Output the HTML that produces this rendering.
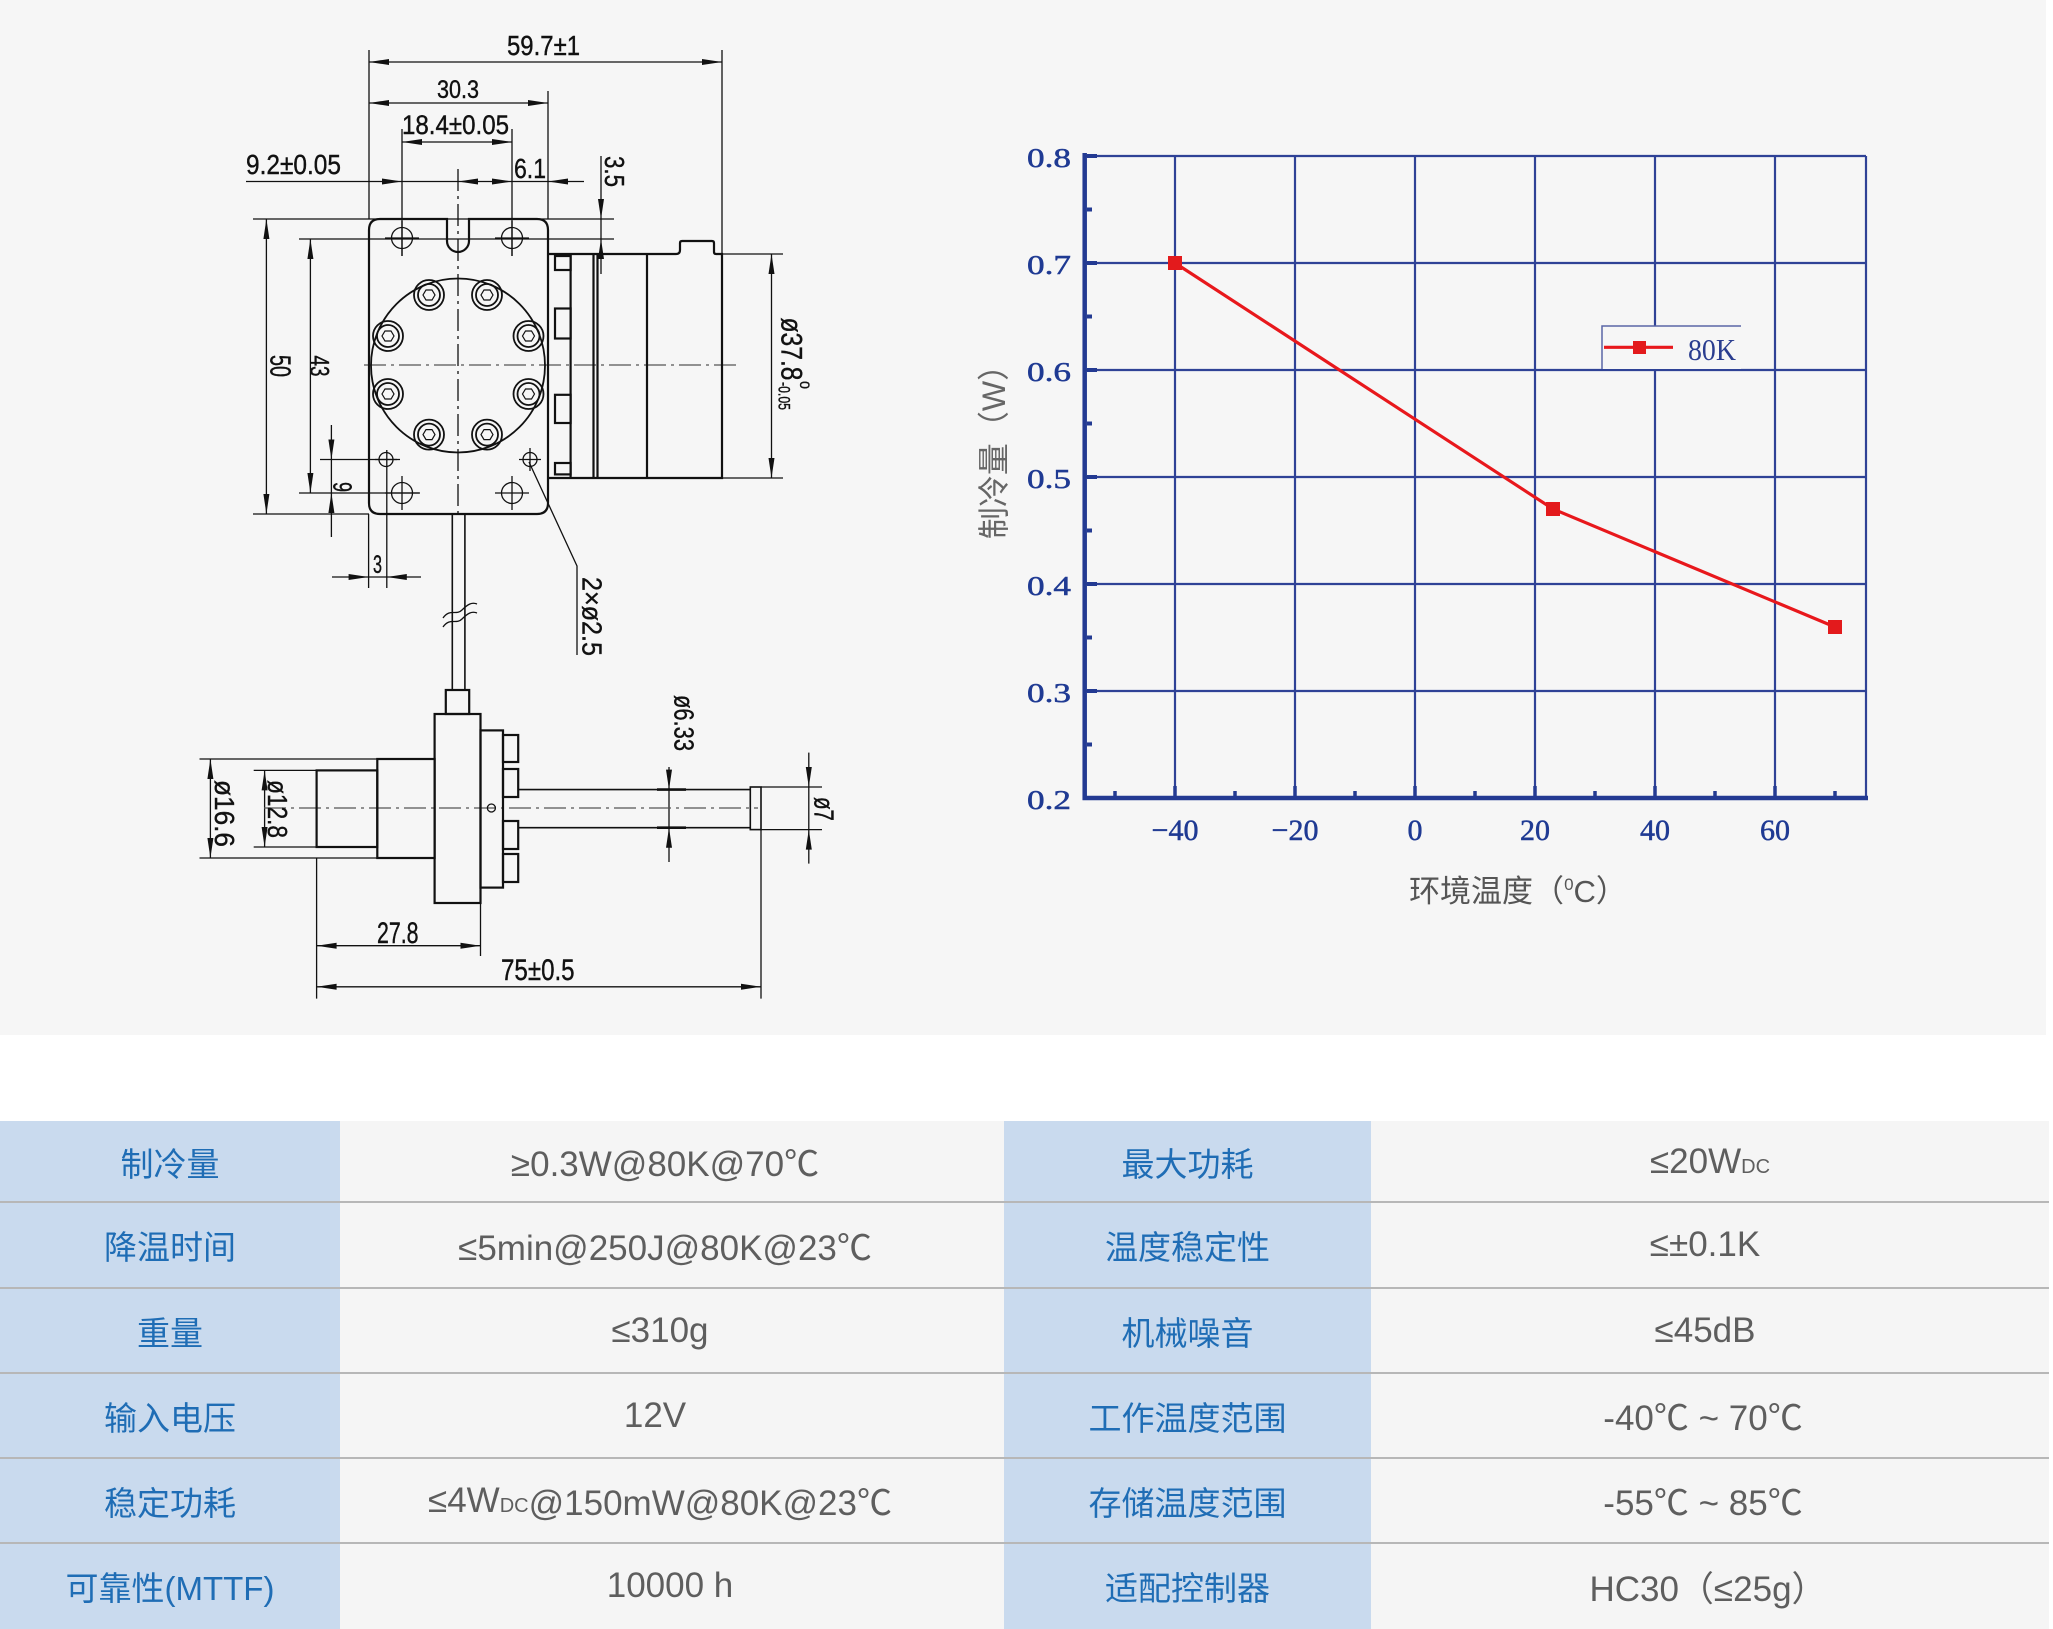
<!DOCTYPE html>
<html>
<head>
<meta charset="utf-8">
<style>
  html,body{margin:0;padding:0;background:#ffffff;}
  body{width:2053px;height:1629px;position:relative;overflow:hidden;font-family:"Liberation Sans","Noto Sans CJK SC",sans-serif;}
  .bg{position:absolute;left:0;top:0;width:2046px;height:1035px;background:#f6f6f6;}
  .c{position:absolute;display:flex;align-items:center;justify-content:center;white-space:nowrap;}
  .l{background:#c9daee;color:#1f6db5;font-size:33px;font-family:"Liberation Sans","Noto Sans CJK SC",sans-serif;}
  .v{background:#f5f5f5;color:#5e5e5e;font-size:35px;font-family:"Liberation Sans","Noto Sans CJK SC",sans-serif;}
  .hl{position:absolute;left:0;width:2049px;height:2px;background:#b7b7b7;}
  .dc{font-size:20px;position:relative;top:6px;}
</style>
</head>
<body>
<div class="bg"></div>

<svg width="2053" height="1035" style="position:absolute;left:0;top:0" xmlns="http://www.w3.org/2000/svg">
  <!-- ================= TECHNICAL DRAWING ================= -->
  <g stroke="#111" fill="none" stroke-width="1.3">
    <!-- 59.7 -->
    <line x1="369" y1="50" x2="369" y2="219"/>
    <line x1="722" y1="50" x2="722" y2="254"/>
    <line x1="369" y1="62" x2="722" y2="62"/>
    <!-- 30.3 -->
    <line x1="548" y1="91" x2="548" y2="219"/>
    <line x1="369" y1="103" x2="548" y2="103"/>
    <!-- 18.4 -->
    <line x1="402" y1="129" x2="402" y2="256"/>
    <line x1="512" y1="129" x2="512" y2="256"/>
    <line x1="402" y1="142" x2="512" y2="142"/>
    <!-- 9.2 / 6.1 line -->
    <line x1="246" y1="181.5" x2="584" y2="181.5"/>
    <!-- 3.5 -->
    <line x1="601" y1="156" x2="601" y2="274"/>
    <line x1="253" y1="219" x2="614" y2="219"/>
    <line x1="299" y1="239" x2="614" y2="239"/>
    <!-- 50 -->
    <line x1="253" y1="514" x2="369" y2="514"/>
    <line x1="266.4" y1="219" x2="266.4" y2="514"/>
    <!-- 43 -->
    <line x1="310.4" y1="239" x2="310.4" y2="493"/>
    <line x1="299" y1="493" x2="420" y2="493"/>
    <!-- 9 -->
    <line x1="331.4" y1="425" x2="331.4" y2="537"/>
    <line x1="320" y1="459.5" x2="400" y2="459.5"/>
    <!-- 3 -->
    <line x1="368.6" y1="514" x2="368.6" y2="588"/>
    <line x1="386.8" y1="450" x2="386.8" y2="588"/>
    <line x1="332" y1="577" x2="421" y2="577"/>
    <!-- ø37.8 -->
    <line x1="722" y1="254" x2="783" y2="254"/>
    <line x1="722" y1="478" x2="783" y2="478"/>
    <line x1="771.5" y1="254" x2="771.5" y2="478"/>
    <!-- leader 2xø2.5 -->
    <polyline points="529,462 577,566 577,655"/>
    <!-- crosses for holes -->
    <line x1="385" y1="238" x2="419" y2="238"/>
    <line x1="495" y1="238" x2="529" y2="238"/>
    <line x1="385" y1="493" x2="419" y2="493"/>
    <line x1="495" y1="493" x2="529" y2="493"/>
    <line x1="402" y1="221" x2="402" y2="256"/>
    <line x1="512" y1="221" x2="512" y2="256"/>
    <line x1="402" y1="476" x2="402" y2="510"/>
    <line x1="512" y1="476" x2="512" y2="510"/>
    <line x1="375" y1="459.5" x2="397" y2="459.5"/>
    <line x1="519" y1="459.5" x2="541" y2="459.5"/>
    <line x1="530" y1="448" x2="530" y2="471"/>
    <circle cx="402" cy="238" r="10.5"/>
    <circle cx="512" cy="238" r="10.5"/>
    <circle cx="402" cy="493" r="10.5"/>
    <circle cx="512" cy="493" r="10.5"/>
    <circle cx="386" cy="459.5" r="7"/>
    <circle cx="530" cy="459.5" r="7"/>
    <!-- center lines -->
    <line x1="458" y1="169" x2="458" y2="514" stroke-dasharray="22 5 3 5"/>
    <line x1="364" y1="365" x2="741" y2="365" stroke-dasharray="22 5 3 5" stroke="#555"/>

    <!-- bottom view dims -->
    <line x1="199.5" y1="759" x2="377" y2="759"/>
    <line x1="199.5" y1="858" x2="377" y2="858"/>
    <line x1="210.4" y1="759" x2="210.4" y2="858"/>
    <line x1="253.7" y1="770.4" x2="316.6" y2="770.4"/>
    <line x1="253.7" y1="847" x2="316.6" y2="847"/>
    <line x1="264.6" y1="770.4" x2="264.6" y2="847"/>
    <line x1="669" y1="767" x2="669" y2="862"/>
    <line x1="761" y1="787" x2="822" y2="787"/>
    <line x1="761" y1="829.6" x2="822" y2="829.6"/>
    <line x1="808.8" y1="752.6" x2="808.8" y2="863.6"/>
    <line x1="316.6" y1="945.7" x2="480.5" y2="945.7"/>
    <line x1="316.6" y1="858" x2="316.6" y2="998.6"/>
    <line x1="480.5" y1="903" x2="480.5" y2="956"/>
    <line x1="316.6" y1="986.8" x2="761" y2="986.8"/>
    <line x1="761" y1="829.6" x2="761" y2="998.6"/>
    <line x1="264" y1="808" x2="758" y2="808" stroke-dasharray="22 5 3 5" stroke="#555"/>
    <circle cx="491.4" cy="808" r="4"/>
  </g>

  <!-- thick outlines -->
  <g stroke="#111" fill="none" stroke-width="2.2">
    <path d="M380,219 L447,219 L447,241 A11,11 0 0 0 469,241 L469,219 L537,219 Q548,219 548,230 L548,503 Q548,514 537,514 L380,514 Q369,514 369,503 L369,230 Q369,219 380,219 Z"/>
    <circle cx="458" cy="365.5" r="87" stroke-width="1.8"/>
    <!-- right assembly -->
    <path d="M548,254 L676,254 Q680,254 680,250 L680,243 Q680,241 682,241 L712,241 Q714,241 714,243 L714,252 Q714,254 716,254 L722,254 L722,478 L548,478"/>
    <line x1="570.6" y1="254" x2="570.6" y2="479"/>
    <line x1="593.5" y1="254" x2="593.5" y2="478"/>
    <line x1="597.5" y1="254" x2="597.5" y2="478"/>
    <line x1="647" y1="254" x2="647" y2="478"/>
    <rect x="555" y="256" width="15.6" height="14"/>
    <rect x="555" y="308.5" width="15.6" height="30"/>
    <rect x="555" y="394.8" width="15.6" height="28.2"/>
    <rect x="555" y="463" width="15.6" height="11.4"/>
    <!-- cable -->
    <line x1="452.3" y1="514" x2="452.3" y2="690" stroke-width="1.6"/>
    <line x1="464.9" y1="514" x2="464.9" y2="690" stroke-width="1.6"/>
    <path d="M443,618 C450,608 456,616 462,610 S472,602 477,604" stroke-width="1.3"/>
    <path d="M443,627 C450,617 456,625 462,619 S472,611 477,613" stroke-width="1.3"/>
    <!-- bottom assembly -->
    <rect x="445.8" y="690" width="23.4" height="24"/>
    <rect x="434.6" y="714" width="45.9" height="189"/>
    <rect x="480.5" y="730.4" width="22.5" height="157.2"/>
    <rect x="503" y="735" width="15.2" height="27"/>
    <rect x="503" y="769" width="15.2" height="28"/>
    <rect x="503" y="821" width="15.2" height="28"/>
    <rect x="503" y="854" width="15.2" height="28"/>
    <rect x="377.3" y="759" width="57.3" height="99"/>
    <rect x="316.6" y="770.4" width="60.7" height="76.6"/>
    <line x1="518" y1="789.6" x2="750.3" y2="789.6" stroke-width="1.6"/>
    <line x1="518" y1="827.7" x2="750.3" y2="827.7" stroke-width="1.6"/>
    <rect x="750.3" y="787" width="10.7" height="42.6" stroke-width="1.6"/>
    <line x1="657" y1="789.6" x2="686" y2="789.6" stroke-width="2.6"/>
    <line x1="657" y1="827.7" x2="686" y2="827.7" stroke-width="2.6"/>
  </g>

  <!-- bolts -->
  <g stroke="#111" fill="none">
    <g stroke-width="1.8"><circle cx="429" cy="295" r="15"/><circle cx="429" cy="295" r="11"/></g><polygon points="435,295 432,300 426,300 423,295 426,290 432,290" stroke-width="1.2"/>
    <g stroke-width="1.8"><circle cx="487" cy="295" r="15"/><circle cx="487" cy="295" r="11"/></g><polygon points="493,295 490,300 484,300 481,295 484,290 490,290" stroke-width="1.2"/>
    <g stroke-width="1.8"><circle cx="388" cy="336" r="15"/><circle cx="388" cy="336" r="11"/></g><polygon points="394,336 391,341 385,341 382,336 385,331 391,331" stroke-width="1.2"/>
    <g stroke-width="1.8"><circle cx="528.5" cy="336" r="15"/><circle cx="528.5" cy="336" r="11"/></g><polygon points="534.5,336 531.5,341 525.5,341 522.5,336 525.5,331 531.5,331" stroke-width="1.2"/>
    <g stroke-width="1.8"><circle cx="388" cy="394" r="15"/><circle cx="388" cy="394" r="11"/></g><polygon points="394,394 391,399 385,399 382,394 385,389 391,389" stroke-width="1.2"/>
    <g stroke-width="1.8"><circle cx="528.5" cy="394" r="15"/><circle cx="528.5" cy="394" r="11"/></g><polygon points="534.5,394 531.5,399 525.5,399 522.5,394 525.5,389 531.5,389" stroke-width="1.2"/>
    <g stroke-width="1.8"><circle cx="429" cy="434.6" r="15"/><circle cx="429" cy="434.6" r="11"/></g><polygon points="435,434.6 432,439.6 426,439.6 423,434.6 426,429.6 432,429.6" stroke-width="1.2"/>
    <g stroke-width="1.8"><circle cx="487" cy="434.6" r="15"/><circle cx="487" cy="434.6" r="11"/></g><polygon points="493,434.6 490,439.6 484,439.6 481,434.6 484,429.6 490,429.6" stroke-width="1.2"/>
  </g>

  <!-- arrowheads -->
  <g fill="#111" stroke="none">
    <polygon points="369,62 389,59 389,65"/><polygon points="722,62 702,59 702,65"/>
    <polygon points="369,103 389,100 389,106"/><polygon points="548,103 528,100 528,106"/>
    <polygon points="402,142 422,139 422,145"/><polygon points="512,142 492,139 492,145"/>
    <polygon points="402,181.5 382,178.5 382,184.5"/><polygon points="458,181.5 478,178.5 478,184.5"/>
    <polygon points="512,181.5 492,178.5 492,184.5"/><polygon points="548,181.5 568,178.5 568,184.5"/>
    <polygon points="601,219 598,199 604,199"/><polygon points="601,239 598,259 604,259"/>
    <polygon points="266.4,219 263.4,239 269.4,239"/><polygon points="266.4,514 263.4,494 269.4,494"/>
    <polygon points="310.4,239 307.4,259 313.4,259"/><polygon points="310.4,493 307.4,473 313.4,473"/>
    <polygon points="331.4,459.5 328.4,439.5 334.4,439.5"/><polygon points="331.4,493 328.4,513 334.4,513"/>
    <polygon points="368.6,577 348.6,574 348.6,580"/><polygon points="386.8,577 406.8,574 406.8,580"/>
    <polygon points="771.5,254 768.5,274 774.5,274"/><polygon points="771.5,478 768.5,458 774.5,458"/>
    <polygon points="210.4,759 207.4,779 213.4,779"/><polygon points="210.4,858 207.4,838 213.4,838"/>
    <polygon points="264.6,770.4 261.6,790.4 267.6,790.4"/><polygon points="264.6,847 261.6,827 267.6,827"/>
    <polygon points="669,789.6 666,769.6 672,769.6"/><polygon points="669,827.7 666,847.7 672,847.7"/>
    <polygon points="808.8,787 805.8,767 811.8,767"/><polygon points="808.8,829.6 805.8,849.6 811.8,849.6"/>
    <polygon points="316.6,945.7 336.6,942.7 336.6,948.7"/><polygon points="480.5,945.7 460.5,942.7 460.5,948.7"/>
    <polygon points="316.6,986.8 336.6,983.8 336.6,989.8"/><polygon points="761,986.8 741,983.8 741,989.8"/>
  </g>

  <!-- drawing texts -->
  <g fill="#111" font-family="Liberation Sans, DejaVu Sans, sans-serif" stroke="#111" stroke-width="0.4">
    <text x="507" y="55" font-size="28" textLength="73" lengthAdjust="spacingAndGlyphs">59.7±1</text>
    <text x="437" y="98" font-size="25" textLength="42" lengthAdjust="spacingAndGlyphs">30.3</text>
    <text x="402" y="134" font-size="27" textLength="107" lengthAdjust="spacingAndGlyphs">18.4±0.05</text>
    <text x="246" y="174" font-size="28" textLength="95" lengthAdjust="spacingAndGlyphs">9.2±0.05</text>
    <text x="514" y="178" font-size="28" textLength="32" lengthAdjust="spacingAndGlyphs">6.1</text>
    <text x="373" y="573" font-size="25" textLength="9" lengthAdjust="spacingAndGlyphs">3</text>
    <text x="377" y="943" font-size="30" textLength="41.5" lengthAdjust="spacingAndGlyphs">27.8</text>
    <text x="501" y="980" font-size="30" textLength="73.6" lengthAdjust="spacingAndGlyphs">75±0.5</text>

    <g text-anchor="middle" dominant-baseline="central">
      <text transform="translate(614.5,171.5) rotate(90)" font-size="28" textLength="31" lengthAdjust="spacingAndGlyphs">3.5</text>
      <text transform="translate(279.5,366) rotate(90)" font-size="29" textLength="22" lengthAdjust="spacingAndGlyphs">50</text>
      <text transform="translate(319.5,366) rotate(90)" font-size="27" textLength="21" lengthAdjust="spacingAndGlyphs">43</text>
      <text transform="translate(342.5,487) rotate(90)" font-size="26" textLength="10" lengthAdjust="spacingAndGlyphs">9</text>
      <text transform="translate(791,349) rotate(90)" font-size="30" textLength="63" lengthAdjust="spacingAndGlyphs">ø37.8</text>
      <text transform="translate(784,396) rotate(90)" font-size="17" textLength="28" lengthAdjust="spacingAndGlyphs">-0.05</text>
      <text transform="translate(805,385) rotate(90)" font-size="14">0</text>
      <text transform="translate(592,616.5) rotate(90)" font-size="28" textLength="79" lengthAdjust="spacingAndGlyphs">2×ø2.5</text>
      <text transform="translate(224.5,813.5) rotate(90)" font-size="28" textLength="67" lengthAdjust="spacingAndGlyphs">ø16.6</text>
      <text transform="translate(277.5,809) rotate(90)" font-size="28" textLength="58" lengthAdjust="spacingAndGlyphs">ø12.8</text>
      <text transform="translate(684,723) rotate(90)" font-size="28" textLength="56" lengthAdjust="spacingAndGlyphs">ø6.33</text>
      <text transform="translate(824,809) rotate(90)" font-size="28" textLength="24" lengthAdjust="spacingAndGlyphs">ø7</text>
    </g>
  </g>

  <!-- ================= CHART ================= -->
  <g stroke="#2f4296" stroke-width="2.2" fill="none">
    <line x1="1175" y1="156" x2="1175" y2="798"/>
    <line x1="1295" y1="156" x2="1295" y2="798"/>
    <line x1="1415" y1="156" x2="1415" y2="798"/>
    <line x1="1535" y1="156" x2="1535" y2="798"/>
    <line x1="1655" y1="156" x2="1655" y2="798"/>
    <line x1="1775" y1="156" x2="1775" y2="798"/>
    <line x1="1085" y1="156" x2="1866" y2="156"/>
    <line x1="1085" y1="263" x2="1866" y2="263"/>
    <line x1="1085" y1="370" x2="1866" y2="370"/>
    <line x1="1085" y1="477" x2="1866" y2="477"/>
    <line x1="1085" y1="584" x2="1866" y2="584"/>
    <line x1="1085" y1="691" x2="1866" y2="691"/>
    <line x1="1866" y1="156" x2="1866" y2="798"/>
  </g>
  <!-- legend box -->
  <rect x="1602" y="326" width="139" height="43" fill="#f6f6f6"/>
  <polyline points="1602,369 1602,326 1741,326" fill="none" stroke="#5a66a6" stroke-width="1.5"/>
  <!-- axes -->
  <g stroke="#233a92" fill="none">
    <line x1="1084.7" y1="153" x2="1084.7" y2="800" stroke-width="4.5"/>
    <line x1="1082.5" y1="798" x2="1868" y2="798" stroke-width="4.5"/>
    <g stroke-width="4">
      <line x1="1087" y1="156" x2="1097" y2="156"/>
      <line x1="1087" y1="263" x2="1097" y2="263"/>
      <line x1="1087" y1="370" x2="1097" y2="370"/>
      <line x1="1087" y1="477" x2="1097" y2="477"/>
      <line x1="1087" y1="584" x2="1097" y2="584"/>
      <line x1="1087" y1="691" x2="1097" y2="691"/>
      <line x1="1087" y1="209.5" x2="1092" y2="209.5"/>
      <line x1="1087" y1="316.5" x2="1092" y2="316.5"/>
      <line x1="1087" y1="423.5" x2="1092" y2="423.5"/>
      <line x1="1087" y1="530.5" x2="1092" y2="530.5"/>
      <line x1="1087" y1="637.5" x2="1092" y2="637.5"/>
      <line x1="1087" y1="744.5" x2="1092" y2="744.5"/>
    </g>
    <g stroke-width="3.5">
      <line x1="1175" y1="796" x2="1175" y2="786"/>
      <line x1="1295" y1="796" x2="1295" y2="786"/>
      <line x1="1415" y1="796" x2="1415" y2="786"/>
      <line x1="1535" y1="796" x2="1535" y2="786"/>
      <line x1="1655" y1="796" x2="1655" y2="786"/>
      <line x1="1775" y1="796" x2="1775" y2="786"/>
      <line x1="1115" y1="796" x2="1115" y2="791"/>
      <line x1="1235" y1="796" x2="1235" y2="791"/>
      <line x1="1355" y1="796" x2="1355" y2="791"/>
      <line x1="1475" y1="796" x2="1475" y2="791"/>
      <line x1="1595" y1="796" x2="1595" y2="791"/>
      <line x1="1715" y1="796" x2="1715" y2="791"/>
      <line x1="1835" y1="796" x2="1835" y2="791"/>
    </g>
  </g>
  <!-- data -->
  <polyline points="1175,263 1553,509 1835,627" fill="none" stroke="#e8181c" stroke-width="3.2"/>
  <g fill="#e31a1c">
    <rect x="1168" y="256" width="14" height="14"/>
    <rect x="1546" y="502" width="14" height="14"/>
    <rect x="1828" y="620" width="14" height="14"/>
  </g>
  <line x1="1604" y1="347.3" x2="1673" y2="347.3" stroke="#e8181c" stroke-width="3.2"/>
  <rect x="1633" y="341" width="13" height="13" fill="#e31a1c"/>
  <text x="1688" y="360" font-family="Liberation Serif, serif" font-size="31" fill="#2a3d8f" textLength="48" lengthAdjust="spacingAndGlyphs">80K</text>

  <!-- tick labels -->
  <g font-family="Liberation Serif, DejaVu Serif, serif" fill="#1f3a93" stroke="#1f3a93" stroke-width="0.5" font-size="27" text-anchor="end">
    <text x="1071" y="167" textLength="44" lengthAdjust="spacingAndGlyphs">0.8</text>
    <text x="1071" y="274" textLength="44" lengthAdjust="spacingAndGlyphs">0.7</text>
    <text x="1071" y="381" textLength="44" lengthAdjust="spacingAndGlyphs">0.6</text>
    <text x="1071" y="488" textLength="44" lengthAdjust="spacingAndGlyphs">0.5</text>
    <text x="1071" y="595" textLength="44" lengthAdjust="spacingAndGlyphs">0.4</text>
    <text x="1071" y="702" textLength="44" lengthAdjust="spacingAndGlyphs">0.3</text>
    <text x="1071" y="809" textLength="44" lengthAdjust="spacingAndGlyphs">0.2</text>
  </g>
  <g font-family="Liberation Serif, DejaVu Serif, serif" fill="#1f3a93" stroke="#1f3a93" stroke-width="0.5" font-size="30" text-anchor="middle">
    <text x="1175" y="840">−40</text>
    <text x="1295" y="840">−20</text>
    <text x="1415" y="840">0</text>
    <text x="1535" y="840">20</text>
    <text x="1655" y="840">40</text>
    <text x="1775" y="840">60</text>
  </g>
  <text transform="translate(994,444) rotate(-90)" text-anchor="middle" dominant-baseline="central" font-family="Liberation Sans, Noto Sans CJK SC, sans-serif" font-size="32" fill="#666">制冷量（W）</text>
  <text x="1518" y="902" text-anchor="middle" font-family="Liberation Sans, Noto Sans CJK SC, sans-serif" font-size="31" fill="#555">环境温度（<tspan font-size="17" dy="-12">0</tspan><tspan dy="12">C</tspan>）</text>
</svg>

<!-- ================= TABLE ================= -->
<!-- row 1 -->
<div class="c l" style="left:0;top:1121px;width:340px;height:81px;">制冷量</div>
<div class="c v" style="left:340px;top:1121px;width:650px;height:81px;">≥0.3W@80K@70℃</div>
<div class="c l" style="left:1004px;top:1121px;width:367px;height:81px;">最大功耗</div>
<div class="c v" style="left:1371px;top:1121px;width:678px;height:81px;">≤20W<span class="dc">DC</span></div>
<!-- row 2 -->
<div class="c l" style="left:0;top:1202px;width:340px;height:86px;">降温时间</div>
<div class="c v" style="left:340px;top:1202px;width:650px;height:86px;">≤5min@250J@80K@23℃</div>
<div class="c l" style="left:1004px;top:1202px;width:367px;height:86px;">温度稳定性</div>
<div class="c v" style="left:1371px;top:1202px;width:668px;height:86px;">≤±0.1K</div>
<!-- row 3 -->
<div class="c l" style="left:0;top:1288px;width:340px;height:85px;">重量</div>
<div class="c v" style="left:340px;top:1288px;width:640px;height:85px;">≤310g</div>
<div class="c l" style="left:1004px;top:1288px;width:367px;height:85px;">机械噪音</div>
<div class="c v" style="left:1371px;top:1288px;width:668px;height:85px;">≤45dB</div>
<!-- row 4 -->
<div class="c l" style="left:0;top:1373px;width:340px;height:85px;">输入电压</div>
<div class="c v" style="left:340px;top:1373px;width:630px;height:85px;">12V</div>
<div class="c l" style="left:1004px;top:1373px;width:367px;height:85px;">工作温度范围</div>
<div class="c v" style="left:1371px;top:1373px;width:664px;height:85px;">-40℃ ~ 70℃</div>
<!-- row 5 -->
<div class="c l" style="left:0;top:1458px;width:340px;height:85px;">稳定功耗</div>
<div class="c v" style="left:340px;top:1458px;width:640px;height:85px;">≤4W<span class="dc">DC</span>@150mW@80K@23℃</div>
<div class="c l" style="left:1004px;top:1458px;width:367px;height:85px;">存储温度范围</div>
<div class="c v" style="left:1371px;top:1458px;width:664px;height:85px;">-55℃ ~ 85℃</div>
<!-- row 6 -->
<div class="c l" style="left:0;top:1543px;width:340px;height:86px;">可靠性(MTTF)</div>
<div class="c v" style="left:340px;top:1543px;width:660px;height:86px;">10000 h</div>
<div class="c l" style="left:1004px;top:1543px;width:367px;height:86px;">适配控制器</div>
<div class="c v" style="left:1371px;top:1543px;width:674px;height:86px;">HC30（≤25g）</div>

<!-- fill gaps of value column backgrounds -->
<div style="position:absolute;left:960px;top:1121px;width:44px;height:508px;background:#f5f5f5;"></div>
<div style="position:absolute;left:2030px;top:1121px;width:19px;height:508px;background:#f5f5f5;"></div>

<!-- row separators -->
<div class="hl" style="top:1201px;"></div>
<div class="hl" style="top:1287px;"></div>
<div class="hl" style="top:1372px;"></div>
<div class="hl" style="top:1457px;"></div>
<div class="hl" style="top:1542px;"></div>
</body>
</html>
